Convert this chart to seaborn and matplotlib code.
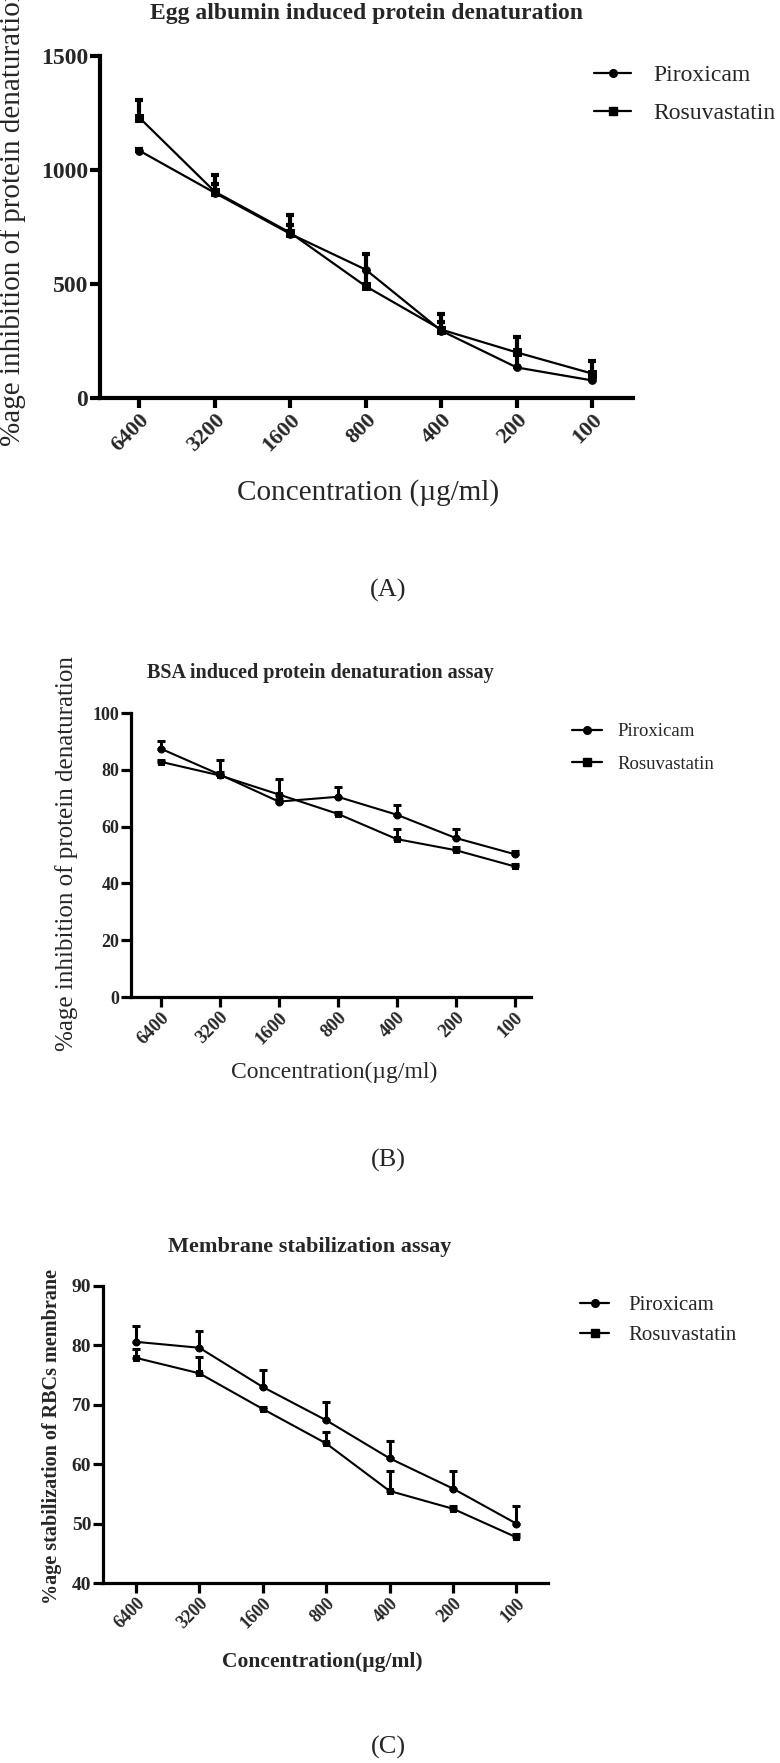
import numpy as np
import pandas as pd
import matplotlib
matplotlib.use("Agg")
import matplotlib.pyplot as plt
from matplotlib.lines import Line2D
import seaborn as sns

# concentrations (ug/ml), shown highest to lowest
conc_labels = ["6400", "3200", "1600", "800", "400", "200", "100"]
drugs = ["Piroxicam", "Rosuvastatin"]

# (A) egg albumin induced protein denaturation
egg_pirox = [1085, 900, 720, 563, 295, 134, 77]
egg_pirox_err = [5, 40, 40, 70, 40, 70, 30]
egg_rosuva = [1230, 905, 725, 490, 300, 200, 107]
egg_rosuva_err = [75, 75, 78, 70, 70, 67, 57]

# (B) BSA induced protein denaturation
bsa_pirox = [87.4, 78.3, 68.8, 70.5, 64.2, 56.0, 50.3]
bsa_pirox_err = [2.6, 1.0, 1.0, 3.4, 3.4, 3.3, 1.1]
bsa_rosuva = [82.8, 78.0, 71.3, 64.5, 55.6, 51.7, 46.0]
bsa_rosuva_err = [0.5, 5.5, 5.5, 0.5, 3.4, 1.0, 1.0]

# (C) membrane stabilization
mem_pirox = [80.6, 79.6, 73.0, 67.4, 61.0, 55.9, 50.0]
mem_pirox_err = [2.6, 2.9, 2.9, 3.1, 2.9, 2.9, 3.0]
mem_rosuva = [77.9, 75.3, 69.3, 63.5, 55.5, 52.5, 47.7]
mem_rosuva_err = [1.5, 2.8, 0.4, 1.9, 3.4, 0.5, 0.5]

sns.set_theme(style="ticks")
plt.rcParams["font.family"] = ["Liberation Serif", "DejaVu Serif"]

W, H = 780, 1763
fig = plt.figure(figsize=(W / 100, H / 100), dpi=100)


def add_ax(left, top, right, bottom):
    return fig.add_axes([left / W, 1 - bottom / H, (right - left) / W, (bottom - top) / H])


def draw_panel(ax, pirox, pirox_err, rosuva, rosuva_err, lw, elw, spine_w, ms):
    pos = np.arange(len(conc_labels))
    df = pd.DataFrame({
        "pos": np.concatenate([pos, pos]),
        "value": pirox + rosuva,
        "drug": [drugs[0]] * len(pos) + [drugs[1]] * len(pos),
    })
    sns.lineplot(data=df, x="pos", y="value", hue="drug", style="drug",
                 markers=["o", "s"], dashes=False, palette=["black", "black"],
                 linewidth=lw, markersize=ms, markeredgecolor="black", ax=ax, legend=False)
    for vals, err in [(pirox, pirox_err), (rosuva, rosuva_err)]:
        ax.errorbar(pos, vals, yerr=[np.zeros(len(err)), err], fmt="none",
                    ecolor="black", elinewidth=elw, capsize=3, capthick=elw)
    ax.set_xticks(pos)
    for s in ["top", "right"]:
        ax.spines[s].set_visible(False)
    for s in ["left", "bottom"]:
        ax.spines[s].set_linewidth(spine_w)
        ax.spines[s].set_color("black")
    ax.tick_params(axis="both", direction="out", length=7, width=spine_w, color="black", pad=1.5)
    ax.set_xlabel("")
    ax.set_ylabel("")
    ax.set_facecolor("white")


def add_legend(ax, x, y_mid, size, handlelength, spacing, textpad):
    handles = [Line2D([], [], color="black", marker="o", lw=1.6, ms=5.5),
               Line2D([], [], color="black", marker="s", lw=1.6, ms=5.5)]
    ax.legend(handles, drugs, loc="center left", bbox_to_anchor=(x / W, 1 - y_mid / H),
              bbox_transform=fig.transFigure, frameon=False, fontsize=size,
              borderpad=0, borderaxespad=0, handlelength=handlelength,
              labelspacing=spacing, handletextpad=textpad)


# ---- panel A ----
axA = add_ax(100, 56, 633, 398)
draw_panel(axA, egg_pirox, egg_pirox_err, egg_rosuva, egg_rosuva_err, 1.6, 3.0, 3.0, 5.5)
axA.set_xlim(-0.52, 6.54)
axA.set_ylim(0, 1500)
axA.set_yticks([0, 500, 1000, 1500])
axA.set_yticklabels(["0", "500", "1000", "1500"], fontsize=17, fontweight="bold")
axA.set_xticklabels(conc_labels, rotation=45, ha="right", rotation_mode="anchor",
                    fontsize=16, fontweight="bold")
fig.text(366 / W, 1 - 13 / H, "Egg albumin induced protein denaturation",
         ha="center", va="center", fontsize=17, fontweight="bold")
fig.text(368 / W, 1 - 493 / H, "Concentration (\u00b5g/ml)", ha="center", va="center", fontsize=21)
fig.text(13 / W, 1 - 446 / H, "%age inhibition of protein denaturation", rotation=90,
         ha="center", va="bottom", fontsize=21)
add_legend(axA, 594, 94.5, 17, 1.57, 0.68, 0.93)
fig.text(388 / W, 1 - 590 / H, "(A)", ha="center", va="center", fontsize=19)

# ---- panel B ----
axB = add_ax(131, 713, 531, 997)
draw_panel(axB, bsa_pirox, bsa_pirox_err, bsa_rosuva, bsa_rosuva_err, 1.5, 2.2, 2.3, 5)
axB.set_xlim(-0.51, 6.28)
axB.set_ylim(0, 100)
axB.set_yticks(range(0, 101, 20))
axB.set_yticklabels([str(v) for v in range(0, 101, 20)], fontsize=13, fontweight="bold")
axB.set_xticklabels(conc_labels, rotation=45, ha="right", rotation_mode="anchor",
                    fontsize=13.5, fontweight="bold")
fig.text(320 / W, 1 - 673 / H, "BSA induced protein denaturation assay",
         ha="center", va="center", fontsize=14.5, fontweight="bold")
fig.text(334 / W, 1 - 1072 / H, "Concentration(\u00b5g/ml)", ha="center", va="center", fontsize=17)
fig.text(67 / W, 1 - 854 / H, "%age inhibition of protein denaturation", rotation=90,
         ha="center", va="center", fontsize=18)
add_legend(axB, 572, 748, 13.5, 1.6, 0.8, 0.85)
fig.text(388 / W, 1 - 1160 / H, "(B)", ha="center", va="center", fontsize=19)

# ---- panel C ----
axC = add_ax(103, 1286, 548, 1583)
draw_panel(axC, mem_pirox, mem_pirox_err, mem_rosuva, mem_rosuva_err, 1.5, 2.2, 2.3, 5)
axC.set_xlim(-0.52, 6.5)
axC.set_ylim(40, 90)
axC.set_yticks(range(40, 91, 10))
axC.set_yticklabels([str(v) for v in range(40, 91, 10)], fontsize=14, fontweight="bold")
axC.set_xticklabels(conc_labels, rotation=45, ha="right", rotation_mode="anchor",
                    fontsize=13, fontweight="bold")
fig.text(310 / W, 1 - 1247 / H, "Membrane stabilization assay",
         ha="center", va="center", fontsize=16, fontweight="bold")
fig.text(322 / W, 1 - 1662 / H, "Concentration(\u00b5g/ml)", ha="center", va="center",
         fontsize=15.5, fontweight="bold")
fig.text(52 / W, 1 - 1436 / H, "%age stabilization of RBCs membrane", rotation=90,
         ha="center", va="center", fontsize=14.5, fontweight="bold")
add_legend(axC, 580, 1320, 15, 1.4, 0.5, 0.9)
fig.text(388 / W, 1 - 1747 / H, "(C)", ha="center", va="center", fontsize=19)

fig.savefig("out.png", dpi=100, facecolor="white")
